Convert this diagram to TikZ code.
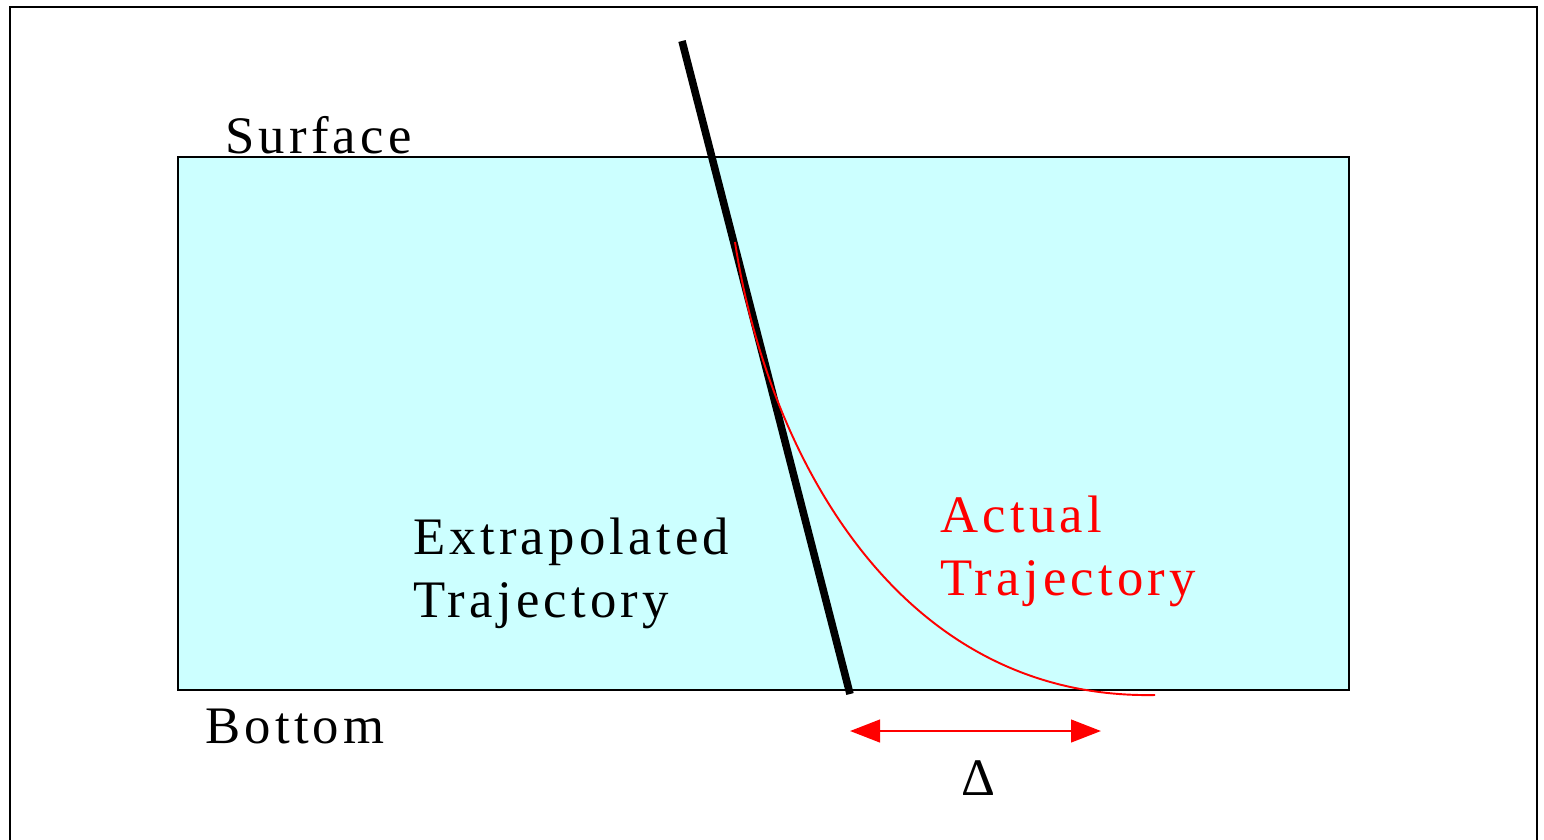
\documentclass[tikz,border=0pt]{standalone}
\usepackage{fontspec}
\newfontfamily\lblfont[LetterSpace=8]{Liberation Serif}
\usepackage{tikz}
\usetikzlibrary{arrows.meta}
\definecolor{water}{HTML}{CCFFFF}

\begin{document}
\begin{tikzpicture}[x=0.02cm, y=-0.02cm, font=\lblfont\fontsize{30}{35.5}\selectfont,
    lbl/.style={inner sep=0pt, align=left},
    gap/.style={red, line width=1.6pt, {Triangle[length=0.6cm,width=0.45cm]}-{Triangle[length=0.6cm,width=0.45cm]}}]
  \useasboundingbox (0,0) rectangle (1544,839);
  \draw[line width=1.1pt] (10,7) rectangle (1537,870);
  \fill[water] (178,157) rectangle (1349,690);
  \draw[line width=0.9pt] (178,157) rectangle (1349,690);
  \coordinate (top) at (682,41); \coordinate (foot) at (850,694);
  \draw[line width=4.3pt] (top) -- (foot);
  \coordinate (start) at (735,242); \coordinate (stop) at (1155,695);
  \draw[red, line width=1.1pt] (start) .. controls (765,440) and (890,700) .. (stop);
  \node[lbl, anchor=base west] (surf) at (225,153) {Surface};
  \node[lbl, anchor=base west] (bot) at (205,743) {Bottom};
  \node[lbl, anchor=north west] (extra) at (413,518) {Extrapolated\\Trajectory};
  \node[lbl, anchor=north west, text=red] (actual) at (940,496) {Actual\\Trajectory};
  \coordinate (dl) at (850,731); \coordinate (dr) at (1101,731);
  \draw[gap] (dl) -- (dr);
  \node[lbl, anchor=base] (delta) at (978,795) {Δ};
\end{tikzpicture}
\end{document}
